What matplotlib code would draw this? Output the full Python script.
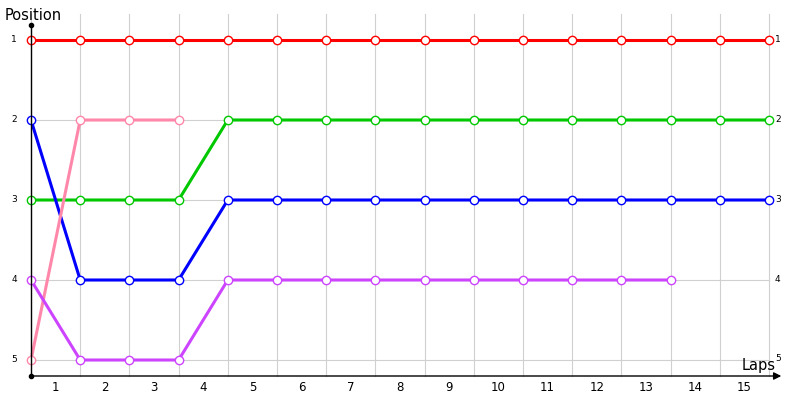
import matplotlib
matplotlib.use("Agg")
import matplotlib.pyplot as plt

laps = list(range(0, 16))
lap_labels = [str(i) for i in range(1, 16)]
positions = [1, 2, 3, 4, 5]

red = [1] * 16
green = [3, 3, 3, 3] + [2] * 12
blue = [2, 4, 4, 4] + [3] * 12
pink = [5, 2, 2, 2]
purple = [4, 5, 5, 5] + [4] * 10

series = [
    (red, "#ff0000"),
    (green, "#00c800"),
    (blue, "#0000ff"),
    (pink, "#ff88aa"),
    (purple, "#cc44ff"),
]

fig = plt.figure(figsize=(8, 4), dpi=100)
ax = fig.add_axes([0, 0, 1, 1])
ax.set_xlim(-31 / 49.2, (800 - 31) / 49.2)
ax.set_ylim(5.5, 0.5)
ax.axis("off")

grid_c = "#d0d0d0"
for x in laps:
    ax.plot([x, x], [0.675, 5.2], color=grid_c, lw=0.8, zorder=1)
for p in positions:
    ax.plot([0, 15], [p, p], color=grid_c, lw=0.8, zorder=1)

for vals, c in series:
    ax.plot(laps[:len(vals)], vals, color=c, lw=2.2, zorder=3,
            marker="o", markersize=6, markerfacecolor="white",
            markeredgecolor=c, markeredgewidth=1.0, clip_on=False)

# axes
ax.plot([0, 0], [5.2, 0.8125], color="black", lw=1.0, zorder=4)
ax.plot([0], [0.8125], "o", color="black", markersize=3, zorder=4)
ax.plot([0], [5.2], "o", color="black", markersize=3, zorder=4)
ax.annotate("", xy=(15.25, 5.2), xytext=(0, 5.2),
            arrowprops=dict(arrowstyle="-|>", color="black", lw=1.0,
                            mutation_scale=11, shrinkA=0, shrinkB=0), zorder=4)

for p in positions:
    ax.text(-0.345, p, str(p), fontsize=6.5, ha="center", va="center",
            family="DejaVu Sans")
    ax.text(15.18, p - (0.02 if p == 5 else 0), str(p), fontsize=6.5,
            ha="center", va="center", family="DejaVu Sans")

for i, lab in enumerate(lap_labels):
    ax.text(i + 0.5, 5.35, lab, fontsize=8.5, ha="center", va="center",
            family="DejaVu Sans")

ax.text(-0.53, 0.69, "Position", fontsize=10.5, ha="left", va="center",
        family="DejaVu Sans")
ax.text(15.13, 5.07, "Laps", fontsize=10.5, ha="right", va="center",
        family="DejaVu Sans")

fig.savefig("out.png", dpi=100)
